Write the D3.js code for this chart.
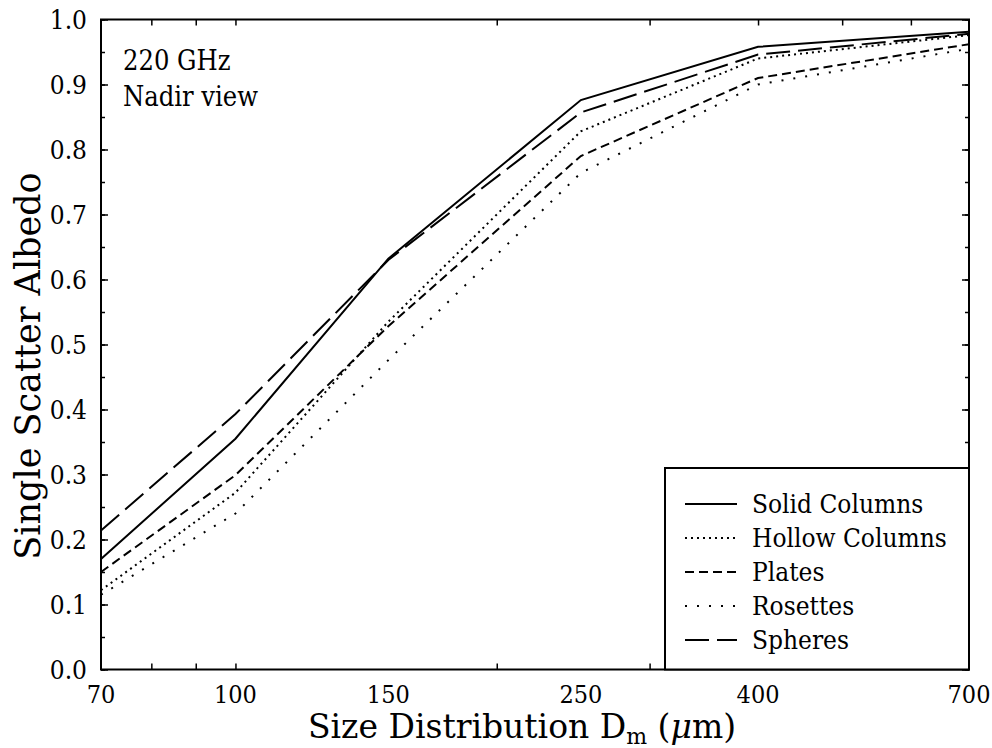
<!DOCTYPE html>
<html>
<head>
<meta charset="utf-8">
<script src="https://cdn.jsdelivr.net/npm/d3@7"></script>
<style>
  html, body { margin: 0; padding: 0; background: #fff; }
  svg { display: block; }
  text { font-family: "DejaVu Serif Condensed", "DejaVu Serif", "Liberation Serif", serif; font-stretch: condensed; fill: #000; }
  text.title { font-family: "DejaVu Serif", "Liberation Serif", serif; font-stretch: normal; }
</style>
</head>
<body>
<svg id="chart" width="992" height="748"></svg>
<script>
// ---- data ----
const dm = [70, 100, 150, 250, 400, 700];
const solidColumns  = [0.170, 0.355, 0.632, 0.876, 0.958, 0.981];
const hollowColumns = [0.122, 0.272, 0.535, 0.828, 0.940, 0.976];
const plates        = [0.150, 0.299, 0.528, 0.790, 0.910, 0.962];
const rosettes      = [0.115, 0.240, 0.476, 0.764, 0.900, 0.955];
const spheres       = [0.214, 0.393, 0.630, 0.857, 0.946, 0.978];
const seriesNames = ["Solid Columns", "Hollow Columns", "Plates", "Rosettes", "Spheres"];
const xTickLabels = [70, 100, 150, 250, 400, 700];
const xMinorTicks = [80, 90, 100, 200, 300, 400, 500, 600];
const yTickLabels = [0.0, 0.1, 0.2, 0.3, 0.4, 0.5, 0.6, 0.7, 0.8, 0.9, 1.0];
const annotation = ["220 GHz", "Nadir view"];

// ---- layout / styles ----
const W = 992, H = 748;
const margin = {left: 101, right: 23, top: 19.5, bottom: 78.5};
const dashes = {
  "Solid Columns": null,
  "Hollow Columns": "2,4",
  "Plates": "9,5",
  "Rosettes": "2,10",
  "Spheres": "24,8"
};
const seriesValues = [solidColumns, hollowColumns, plates, rosettes, spheres];
const series = seriesNames.map((n, i) => ({name: n, values: dm.map((d, j) => ({x: d, y: seriesValues[i][j]}))}));

const svg = d3.select("#chart");
const x = d3.scaleLog().domain([70, 700]).range([margin.left, W - margin.right]);
const y = d3.scaleLinear().domain([0, 1]).range([H - margin.bottom, margin.top]);
const x0 = x.range()[0], x1 = x.range()[1], y0 = y.range()[0], y1 = y.range()[1];

// ---- lines ----
const line = d3.line().x(d => x(d.x)).y(d => y(d.y));
svg.append("g").selectAll("path").data(series).join("path")
  .attr("d", d => line(d.values))
  .attr("fill", "none")
  .attr("stroke", "#000")
  .attr("stroke-width", 2)
  .attr("stroke-dasharray", d => dashes[d.name]);

// ---- axes (inward ticks on all four sides) ----
const fmt = d3.format(".1f");
const yMinor = d3.range(0, 1.0001, 0.05);
svg.append("g").attr("transform", `translate(${x0},0)`)
  .call(d3.axisRight(y).tickValues(yMinor).tickSize(4).tickFormat(""))
  .call(g => g.select(".domain").remove());
svg.append("g").attr("transform", `translate(${x0},0)`)
  .call(d3.axisRight(y).tickValues(yTickLabels).tickSize(7).tickFormat(""))
  .call(g => g.select(".domain").remove());
svg.append("g").attr("transform", `translate(${x1},0)`)
  .call(d3.axisLeft(y).tickValues(yMinor).tickSize(4).tickFormat(""))
  .call(g => g.select(".domain").remove());
svg.append("g").attr("transform", `translate(${x1},0)`)
  .call(d3.axisLeft(y).tickValues(yTickLabels).tickSize(7).tickFormat(""))
  .call(g => g.select(".domain").remove());
svg.append("g").attr("transform", `translate(0,${y0})`)
  .call(d3.axisTop(x).tickValues(xMinorTicks).tickSize(6).tickFormat(""))
  .call(g => g.select(".domain").remove());
svg.append("g").attr("transform", `translate(0,${y1})`)
  .call(d3.axisBottom(x).tickValues(xMinorTicks).tickSize(6).tickFormat(""))
  .call(g => g.select(".domain").remove());
svg.selectAll(".tick line").attr("stroke", "#000").attr("stroke-width", 1.5);

// tick labels
svg.append("g").selectAll("text").data(yTickLabels).join("text")
  .attr("x", x0 - 14).attr("y", d => y(d)).attr("dy", "0.36em")
  .attr("text-anchor", "end").attr("font-size", 26).text(d => fmt(d));
svg.append("g").selectAll("text").data(xTickLabels).join("text")
  .attr("x", d => x(d)).attr("y", y0 + 33)
  .attr("text-anchor", "middle").attr("font-size", 25).text(d => d);

// frame
svg.append("rect").attr("x", x0).attr("y", y1).attr("width", x1 - x0).attr("height", y0 - y1)
  .attr("fill", "none").attr("stroke", "#000").attr("stroke-width", 2);

// ---- annotation ----
svg.append("g").selectAll("text").data(annotation).join("text")
  .attr("x", x0 + 22).attr("y", (d, i) => 70 + i * 36)
  .attr("font-size", 27).text(d => d);

// ---- legend ----
const lg = svg.append("g");
const lgX = 665, lgY = 468;
lg.append("rect").attr("x", lgX).attr("y", lgY).attr("width", x1 - lgX).attr("height", y0 - lgY)
  .attr("fill", "#fff").attr("stroke", "#000").attr("stroke-width", 2);
const rows = lg.selectAll("g.row").data(series).join("g").attr("class", "row")
  .attr("transform", (d, i) => `translate(${lgX},${lgY + 36 + i * 34})`);
rows.append("line").attr("x1", 20).attr("x2", 72).attr("y1", 0).attr("y2", 0)
  .attr("stroke", "#000").attr("stroke-width", 2)
  .attr("stroke-dasharray", d => dashes[d.name]);
rows.append("text").attr("x", 87).attr("y", 0).attr("dy", "0.36em")
  .attr("font-size", 26).text(d => d.name);

// ---- axis titles ----
const xt = svg.append("text").attr("class", "title").attr("x", 522).attr("y", 738)
  .attr("text-anchor", "middle").attr("font-size", 33);
xt.append("tspan").text("Size Distribution D");
xt.append("tspan").attr("font-size", 22).attr("dy", 6).text("m");
xt.append("tspan").attr("dy", -6).text(" (");
xt.append("tspan").attr("font-style", "italic").text("μ");
xt.append("tspan").text("m)");

svg.append("text").attr("class", "title")
  .attr("transform", `translate(40,366) rotate(-90)`)
  .attr("text-anchor", "middle").attr("font-size", 35)
  .text("Single Scatter Albedo");
</script>
</body>
</html>
